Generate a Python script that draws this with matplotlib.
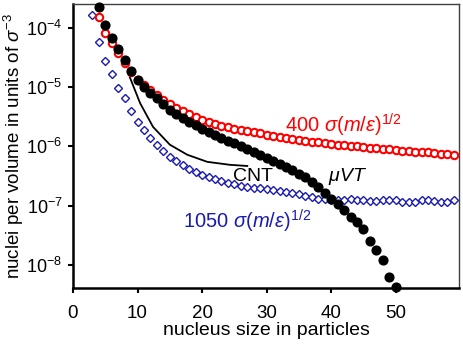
import numpy as np
import matplotlib
matplotlib.use("Agg")
import matplotlib.pyplot as plt

plt.rcParams['font.family'] = ['Liberation Sans', 'DejaVu Sans']
plt.rcParams['mathtext.fontset'] = 'custom'
plt.rcParams['mathtext.rm'] = 'Liberation Sans'
plt.rcParams['mathtext.it'] = 'Liberation Sans:italic'
plt.rcParams['mathtext.bf'] = 'Liberation Sans:bold'

# muVT (black filled circles): nucleus size, log10(density)
x_muvt = list(range(4, 51))
log_muvt = [-3.64, -3.95, -4.17, -4.35, -4.54, -4.73, -4.87, -4.99, -5.10, -5.19,
            -5.29, -5.38, -5.46, -5.52, -5.58, -5.64, -5.70, -5.75, -5.80, -5.85,
            -5.90, -5.95, -6.00, -6.05, -6.10, -6.15, -6.20, -6.25, -6.30, -6.35,
            -6.40, -6.46, -6.52, -6.60, -6.69, -6.78, -6.88, -6.98, -7.07, -7.19,
            -7.27, -7.39, -7.59, -7.74, -7.91, -8.20, -8.38]

# 400 sigma(m/eps)^1/2 (red open circles)
x_400 = list(range(4, 60))
log_400 = [-3.81, -4.08, -4.26, -4.42, -4.59, -4.75, -4.88, -4.97, -5.05, -5.13,
           -5.21, -5.28, -5.35, -5.41, -5.46, -5.51, -5.55, -5.59, -5.62, -5.65,
           -5.68, -5.70, -5.72, -5.74, -5.76, -5.78, -5.80, -5.82, -5.84, -5.85,
           -5.87, -5.89, -5.90, -5.92, -5.93, -5.95, -5.96, -5.97, -5.98, -5.99,
           -6.00, -6.01, -6.02, -6.03, -6.04, -6.05, -6.06, -6.07, -6.08, -6.09,
           -6.10, -6.10, -6.11, -6.12, -6.13, -6.14]

# 1050 sigma(m/eps)^1/2 (blue open diamonds)
x_1050 = list(range(3, 60))
log_1050 = [-3.78, -4.24, -4.56, -4.78, -5.01, -5.19, -5.41, -5.58, -5.72, -5.85,
            -5.97, -6.08, -6.17, -6.25, -6.32, -6.38, -6.43, -6.48, -6.52, -6.55,
            -6.58, -6.61, -6.64, -6.66, -6.68, -6.70, -6.71, -6.72, -6.74, -6.75,
            -6.77, -6.79, -6.81, -6.83, -6.86, -6.88, -6.89, -6.90, -6.91, -6.90,
            -6.89, -6.90, -6.91, -6.92, -6.92, -6.91, -6.90, -6.91, -6.93, -6.94,
            -6.93, -6.91, -6.90, -6.92, -6.94, -6.93, -6.91]

# CNT (black line)
x_cnt = [8.8, 10.4, 12.4, 15.0, 17.7, 20.8, 24.3, 27.0]
log_cnt = [-4.83, -5.27, -5.67, -5.97, -6.14, -6.26, -6.31, -6.33]

xticks = [0, 10, 20, 30, 40, 50]
yticks = [1e-8, 1e-7, 1e-6, 1e-5, 1e-4]

fig = plt.figure(figsize=(4.63, 3.49), dpi=100)
ax = fig.add_axes([73/463, 61/349, 386/463, 284/349])

ax.plot(x_cnt, 10**np.array(log_cnt), color='black', lw=1.3, zorder=2)
ax.plot(x_1050, 10**np.array(log_1050), ls='none', marker='D', ms=4.5,
        mfc='white', mec='#1a1ab0', mew=1.0, zorder=3)
ax.plot(x_400, 10**np.array(log_400), ls='none', marker='o', ms=5.3,
        mfc='white', mec='red', mew=1.5, zorder=3)
ax.plot(x_muvt, 10**np.array(log_muvt), ls='none', marker='o', ms=6.3,
        mfc='black', mec='black', zorder=4, clip_on=False)

ax.set_yscale('log')
ax.set_xlim(0, 59.8)
ax.set_ylim(10**-8.39, 10**-3.595)
ax.set_xticks(xticks)
ax.set_yticks(yticks)
ax.yaxis.set_minor_locator(matplotlib.ticker.NullLocator())

ax.tick_params(direction='out', length=3.6, width=1.5, top=False, right=False)
ax.tick_params(axis='x', labelsize=13.5, pad=8.4)
ax.tick_params(axis='y', labelsize=13, pad=4)
for s in ['left', 'bottom']:
    ax.spines[s].set_linewidth(1.8)
for s in ['top', 'right']:
    ax.spines[s].set_linewidth(1.0)
    ax.spines[s].set_color('#404040')

ax.set_xlabel('nucleus size in particles', fontsize=14, labelpad=0)
ax.set_ylabel(r'nuclei per volume in units of $\sigma^{-3}$', fontsize=13.5, labelpad=0)

ax.text(0.549, 0.546, r'400 $\sigma(m/\varepsilon)^{1/2}$', fontsize=14.5, color='red',
        transform=ax.transAxes, va='baseline', zorder=6)
ax.text(0.285, 0.211, r'1050 $\sigma(m/\varepsilon)^{1/2}$', fontsize=14.5,
        color='#1a1ab0', transform=ax.transAxes, va='baseline', zorder=6)
ax.text(0.415, 0.377, 'CNT', fontsize=14, color='black', transform=ax.transAxes,
        va='baseline', zorder=6)
ax.text(0.661, 0.377, r'$\mu VT$', fontsize=14, color='black', transform=ax.transAxes,
        va='baseline', zorder=6)

fig.savefig('out.png', dpi=100)
